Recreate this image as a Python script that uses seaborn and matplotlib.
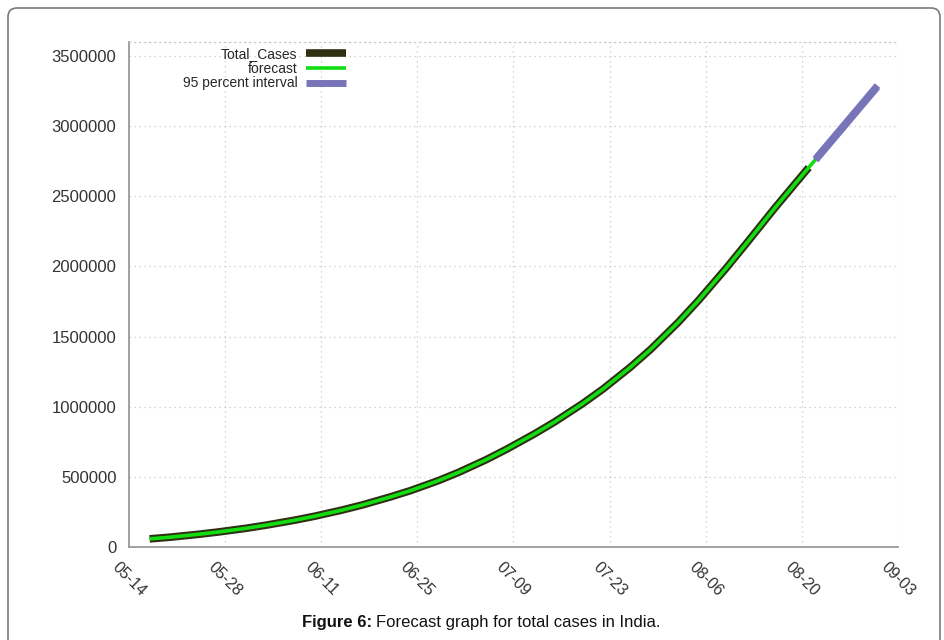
import matplotlib
matplotlib.use("Agg")
import matplotlib.pyplot as plt
import matplotlib.dates as mdates
from matplotlib.patches import FancyBboxPatch
from matplotlib.transforms import IdentityTransform
import pandas as pd
import seaborn as sns

# values
case_dates = ["2020-05-17", "2020-05-20", "2020-05-24", "2020-05-27", "2020-05-31",
              "2020-06-03", "2020-06-07", "2020-06-10", "2020-06-14", "2020-06-17",
              "2020-06-21", "2020-06-24", "2020-06-28", "2020-07-01", "2020-07-05",
              "2020-07-08", "2020-07-12", "2020-07-15", "2020-07-19", "2020-07-22",
              "2020-07-26", "2020-07-29", "2020-08-02", "2020-08-05", "2020-08-09",
              "2020-08-12", "2020-08-16", "2020-08-19", "2020-08-21"]
case_values = [58000, 70000, 90000, 107000, 133000,
               156000, 190000, 219000, 263000, 300000,
               356000, 402000, 472000, 532000, 622000,
               697000, 805000, 892000, 1020000, 1125000,
               1281000, 1410000, 1602000, 1761000, 1989000,
               2169000, 2413000, 2589000, 2705000]

# forecast continues past the last observed day
ahead_dates = ["2020-08-22", "2020-08-26", "2020-08-31"]
ahead_values = [2763000, 2995000, 3285000]

# 95 percent interval (bounds almost on top of each other)
ci_dates = ["2020-08-22", "2020-08-26", "2020-08-31"]
ci_lower = [2758000, 2990000, 3280000]
ci_upper = [2768000, 3000000, 3290000]

tick_labels = ["05-14", "05-28", "06-11", "06-25", "07-09", "07-23", "08-06", "08-20", "09-03"]

cases = pd.DataFrame({"date": pd.to_datetime(case_dates), "value": case_values})
fc = pd.DataFrame({"date": pd.to_datetime(case_dates + ahead_dates),
                   "value": case_values + ahead_values})
ci = pd.DataFrame({"date": pd.to_datetime(ci_dates), "lo": ci_lower, "hi": ci_upper})

sns.set_theme(style="white")
plt.rcParams['font.family'] = ['Liberation Sans', 'DejaVu Sans']

fig = plt.figure(figsize=(9.44, 6.4), dpi=100)
ax = fig.add_axes([129/944, 1-547/640, (898-129)/944, (547-42)/640])

sns.lineplot(data=cases, x="date", y="value", ax=ax, color="#2f2f12", lw=5.5,
             label="Total_Cases", solid_capstyle="butt")
sns.lineplot(data=fc, x="date", y="value", ax=ax, color="#11dd11", lw=2.6,
             label="forecast", solid_capstyle="butt")
sns.lineplot(data=ci, x="date", y="lo", ax=ax, color="#7874b8", lw=5,
             label="95 percent interval", solid_capstyle="butt")
sns.lineplot(data=ci, x="date", y="hi", ax=ax, color="#7874b8", lw=5,
             label="_nolegend_", solid_capstyle="butt")

ticks = pd.to_datetime(["2020-" + t for t in tick_labels])
ax.set_xlim(ticks[0], ticks[-1])
ax.set_xticks(ticks)
ax.xaxis.set_major_formatter(mdates.DateFormatter("%m-%d"))
ax.set_ylim(0, 3600000)
ax.set_yticks(range(0, 3500001, 500000))
ax.ticklabel_format(axis="y", style="plain", useOffset=False)
ax.set_xlabel("")
ax.set_ylabel("")

ax.grid(True, linestyle=(0, (1, 3)), color="#c8c8c8", lw=0.9)
for s in ["left", "bottom"]:
    ax.spines[s].set_color("#9a9a9a")
    ax.spines[s].set_linewidth(1.3)
ax.spines["right"].set_visible(False)
ax.spines["top"].set_linestyle((0, (1, 3)))
ax.spines["top"].set_color("#c8c8c8")
ax.spines["top"].set_linewidth(0.9)

ax.tick_params(axis="both", direction="in", length=5, width=1, color="#9a9a9a",
               labelcolor="#333333")
ax.tick_params(axis="y", labelsize=12, pad=9)
ax.tick_params(axis="x", labelsize=11.5, pad=9)
for lab in ax.get_xticklabels():
    lab.set_rotation(-45)
    lab.set_ha("center")

ax.legend(loc="upper right", bbox_to_anchor=(346/944, 1-47/640), bbox_transform=fig.transFigure,
          frameon=False, markerfirst=False, fontsize=10, handlelength=2.9,
          handletextpad=0.6, labelspacing=0.05, borderpad=0, borderaxespad=0)

# rounded frame around the whole figure
frame = FancyBboxPatch((8, -30), 932, 662, boxstyle="round,pad=0,rounding_size=9",
                       transform=IdentityTransform(), fill=False, ec="#7a7a7a", lw=1.2)
fig.patches.append(frame)

# caption with bold prefix
t1 = fig.text(302/944, 1-622/640, "Figure 6:", fontsize=12, weight="bold",
              color="#111111", va="center", ha="left")
fig.canvas.draw()
bb = t1.get_window_extent()
fig.text((bb.x1 + 4)/944, 1-622/640, "Forecast graph for total cases in India.",
         fontsize=12, color="#111111", va="center", ha="left")

fig.savefig("out.png", dpi=100)
